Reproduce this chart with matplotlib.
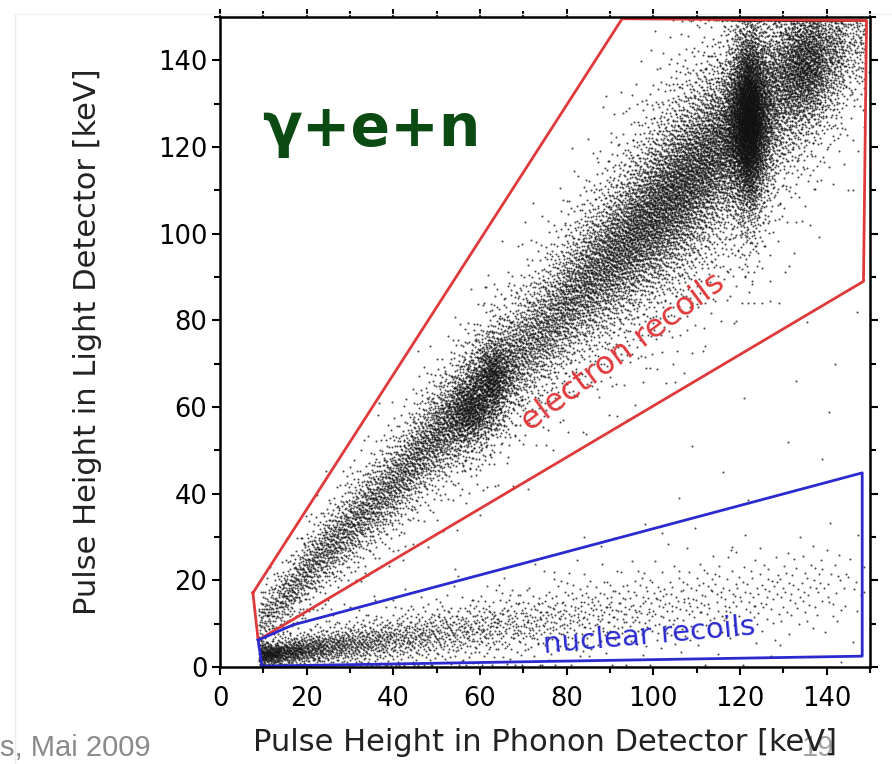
import numpy as np
import matplotlib.pyplot as plt
from matplotlib.lines import Line2D

# electron-recoil band, summarised in 5 keV phonon bins (bin centres)
e_bin = [11.5, 16.5, 21.5, 26.5, 31.5, 36.5, 41.5, 46.5, 51.5, 56.5,
         61.5, 66.5, 71.5, 76.5, 81.5, 86.5, 91.5, 96.5, 101.5, 106.5,
         111.5, 116.5, 121.5, 126.5, 131.5, 136.5, 141.5, 146.5]
e_ridge = [13, 18, 24, 29, 34, 39, 44, 50, 55, 60,
           65, 70, 75, 80, 86, 91, 96, 101, 106, 111,
           116, 121, 126, 131, 136, 140, 143, 145]
e_width = [3.8, 4.2, 4.6, 5.0, 5.4, 5.7, 6.0, 6.3, 6.6, 7.0,
           7.4, 7.8, 8.2, 8.6, 9.0, 9.5, 10.0, 10.5, 11.0, 11.5,
           11.5, 11.5, 11.5, 11.5, 11.5, 11.0, 10.0, 9.0]
e_count = [150, 200, 240, 270, 290, 310, 340, 380, 430, 480,
           480, 420, 420, 460, 540, 640, 760, 880, 980, 1050,
           1000, 880, 720, 620, 640, 560, 400, 200]

# nuclear-recoil band, same bins
n_ridge = [3.0, 3.6, 4.2, 4.8, 5.4, 6.0, 6.6, 7.2, 7.8, 8.4,
           9.0, 9.6, 10.2, 10.8, 11.4, 12.0, 12.6, 13.2, 13.8, 14.4,
           15.0, 15.6, 16.2, 16.8, 17.4, 18.0, 18.6, 19.2]
n_width = [1.6, 1.9, 2.2, 2.5, 2.8, 3.0, 3.2, 3.4, 3.6, 3.8,
           4.0, 4.2, 4.4, 4.6, 4.8, 5.0, 5.2, 5.4, 5.6, 5.8,
           6.0, 6.0, 6.0, 6.0, 6.0, 6.0, 6.0, 6.0]
n_count = [300, 240, 200, 170, 150, 135, 120, 110, 100, 92,
           85, 75, 70, 64, 58, 52, 47, 42, 40, 37,
           34, 32, 30, 28, 26, 24, 20, 12]

# gamma lines on top of the electron band: 60, 122 and 136 keV
pk_phonon = [58.0, 63.0, 122.0, 135.0]
pk_light = [59.0, 67.0, 126.0, 139.0]
pk_sx = [3.5, 2.5, 2.6, 4.0]
pk_sy = [5.0, 5.5, 11.0, 8.0]
pk_count = [500, 450, 3600, 850]

# isolated events outside the bands
stray_x = [140.5, 135.5, 124.0, 98.0, 116.0, 131.0, 142.0, 88.0, 106.0, 77.0,
           121.0, 139.0, 65.0, 55.0, 112.0, 127.0, 146.0, 94.0, 71.0, 84.0,
           36.0, 44.0, 102.0, 118.0, 133.0, 129.0, 60.0, 147.0, 109.0, 90.0]
stray_y = [58.9, 79.6, 10.0, 33.0, 45.0, 52.0, 70.0, 28.0, 39.0, 22.0,
           62.0, 48.0, 17.0, 21.0, 74.0, 95.0, 110.0, 57.0, 41.0, 30.0,
           11.0, 14.0, 31.0, 27.0, 66.0, 84.0, 35.0, 82.0, 51.0, 19.0]

# acceptance regions
er_x = [7.6, 8.8, 148.5, 149.2, 92.8, 7.6]
er_y = [17.1, 6.2, 89.0, 149.2, 149.6, 17.1]
nr_x = [8.8, 16.8, 148.2, 148.2, 9.7, 8.8]
nr_y = [6.2, 9.7, 44.8, 2.5, 0.2, 6.2]


def halton(idx, base):
    out = np.zeros(len(idx))
    f = 1.0
    i = idx.astype(float).copy()
    while np.any(i > 0):
        f /= base
        out += f * (i % base)
        i = np.floor(i / base)
    return out


def tails(v):
    v = np.clip(v, 1e-3, 1 - 1e-3)
    return np.log(v / (1 - v)) / 1.8138


def band(bins, ridge, width, count, start):
    slope = np.gradient(np.asarray(ridge, float), np.asarray(bins, float))
    xs, ys = [], []
    k = start
    for b, r, w, n, s in zip(bins, ridge, width, count, slope):
        idx = np.arange(k, k + n)
        k += n
        u = halton(idx, 2)
        v = halton(idx, 3)
        x = b - 2.5 + 5 * u
        xs.append(x)
        ys.append(r + s * (x - b) + w * tails(v))
    return np.concatenate(xs), np.concatenate(ys)


def blobs(cx, cy, sx, sy, count, start):
    xs, ys = [], []
    k = start
    for a, b, c, d, n in zip(cx, cy, sx, sy, count):
        idx = np.arange(k, k + n)
        k += n
        xs.append(a + c * tails(halton(idx, 5)))
        ys.append(b + d * tails(halton(idx, 7)))
    return np.concatenate(xs), np.concatenate(ys)


ex, ey = band(e_bin, e_ridge, e_width, e_count, 17)
nx, ny = band(e_bin, n_ridge, n_width, n_count, 40001)
px, py = blobs(pk_phonon, pk_light, pk_sx, pk_sy, pk_count, 90001)

allx = np.concatenate([ex, nx, px, stray_x])
ally = np.concatenate([ey, ny, py, stray_y])
keep = allx > 9.0
allx = allx[keep]
ally = np.clip(ally[keep], 0.5, 149.4)

fig = plt.figure(figsize=(8.92, 7.64), dpi=100)
ax = fig.add_axes([220 / 892, 97 / 764, 650 / 892, 650 / 764])

ax.scatter(allx, ally, s=2.2, c='#111111', marker='o', linewidths=0, alpha=0.75)

ax.plot(er_x, er_y, color='#e0393b', lw=2)
ax.plot(nr_x, nr_y, color='#2a2ad0', lw=2)

ax.text(35, 124, 'γ+e+n', color='#0b4a12', fontsize=42, fontweight='bold',
        ha='center', va='center')
ax.text(93, 72.5, 'electron recoils', color='#e0393b', fontsize=23,
        rotation=36.5, ha='center', va='center', rotation_mode='anchor')
ax.text(99, 7.2, 'nuclear recoils', color='#2a2ad0', fontsize=21,
        rotation=5, ha='center', va='center', rotation_mode='anchor')

ax.set_xlim(0, 150)
ax.set_ylim(0, 150)
ax.set_xticks(range(0, 141, 20))
ax.set_yticks(range(0, 141, 20))
ax.set_xticks(range(10, 151, 10), minor=True)
ax.set_yticks(range(10, 151, 10), minor=True)
ax.tick_params(which='both', direction='out', top=True, right=True, width=1.5)
ax.tick_params(which='major', length=5.5, labelsize=18.5)
ax.tick_params(axis='x', which='major', pad=8)
ax.tick_params(which='minor', length=4.5)
for sp in ax.spines.values():
    sp.set_linewidth(1.8)

ax.set_xlabel('Pulse Height in Phonon Detector [keV]', fontsize=22,
              color='#222222', labelpad=12)
ax.set_ylabel('Pulse Height in Light Detector [keV]', fontsize=22,
              color='#222222', labelpad=40)

# slide furniture around the plot
fig.add_artist(Line2D([15 / 892, 15 / 892], [0, 1 - 14 / 764], color='#ececec', lw=1))
fig.add_artist(Line2D([15 / 892, 1], [1 - 14 / 764, 1 - 14 / 764], color='#f2f2f2', lw=1))
fig.text(0.0, 0.01, 's, Mai 2009', fontsize=21, color='#8a8a8a',
         family='Liberation Sans', va='baseline')
fig.text(818 / 892, 0.01, '19', fontsize=21, color='#a0a0a0',
         family='Liberation Sans', va='baseline', ha='center', zorder=-1)

fig.savefig('out.png', dpi=100)
